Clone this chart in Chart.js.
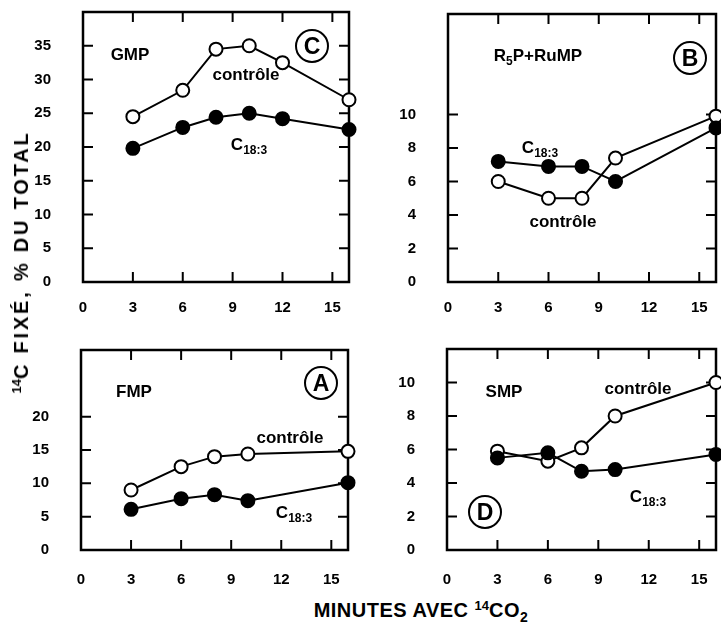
<!DOCTYPE html>
<html>
<head>
<meta charset="utf-8">
<script src="https://cdn.jsdelivr.net/npm/chart.js@4"></script>
<style>
  html, body { margin: 0; padding: 0; background: #fff; overflow: hidden; }
  body { width: 721px; height: 625px; position: relative; font-family: 'Liberation Sans', Arial, sans-serif; font-weight: bold; color: #000; }
  canvas { position: absolute; }
  .lbl { position: absolute; font-size: 17px; line-height: 1; white-space: nowrap; transform: translate(-50%, -50%); }
  .lbl sub { font-size: 12px; vertical-align: -4px; }
  .circ { position: absolute; width: 30px; height: 30px; border: 2px solid #000; border-radius: 50%;
          font-size: 23px; line-height: 30px; text-align: center; transform: translate(-50%, -50%); }
  .ytitle { position: absolute; left: 21px; top: 262px; font-size: 20px; letter-spacing: 2.8px; white-space: nowrap; transform: translate(-50%, -50%) rotate(-90deg); }
  .xtitle { position: absolute; left: 421px; top: 611px; font-size: 20px; letter-spacing: 0.5px; white-space: nowrap; transform: translate(-50%, -50%); }
  .ytitle sup, .xtitle sup { font-size: 13px; vertical-align: 7px; letter-spacing: 0; }
  .xtitle sub { font-size: 14px; vertical-align: -5px; }
</style>
</head>
<body>
<canvas id="chartC"></canvas>
<canvas id="chartB"></canvas>
<canvas id="chartA"></canvas>
<canvas id="chartD"></canvas>

<div class="ytitle"><sup>14</sup>C FIXÉ, % DU TOTAL</div>
<div class="xtitle">MINUTES AVEC <sup>14</sup>CO<sub>2</sub></div>

<div class="lbl" style="left:130px;top:54px">GMP</div>
<div class="lbl" style="left:246px;top:74px">contrôle</div>
<div class="lbl" style="left:249px;top:146px">C<sub>18:3</sub></div>
<div class="circ" style="left:312px;top:46px">C</div>

<div class="lbl" style="left:538px;top:57px">R<sub>5</sub>P+RuMP</div>
<div class="lbl" style="left:540px;top:149px">C<sub>18:3</sub></div>
<div class="lbl" style="left:563px;top:221px">contrôle</div>
<div class="circ" style="left:690px;top:58px">B</div>

<div class="lbl" style="left:134px;top:391px">FMP</div>
<div class="lbl" style="left:290px;top:437px">contrôle</div>
<div class="lbl" style="left:294px;top:514px">C<sub>18:3</sub></div>
<div class="circ" style="left:321px;top:383px">A</div>

<div class="lbl" style="left:504px;top:391px">SMP</div>
<div class="lbl" style="left:638px;top:388px">contrôle</div>
<div class="lbl" style="left:648px;top:498px">C<sub>18:3</sub></div>
<div class="circ" style="left:485px;top:512px">D</div>

<script>
// minutes avec 14CO2
const xTicks = [0, 3, 6, 9, 12, 15];

// C - GMP
const minutesC = [3, 6, 8, 10, 12, 16];
const controleC = [24.5, 28.4, 34.5, 35.0, 32.5, 27.0];
const c183C = [19.8, 22.9, 24.4, 25.0, 24.2, 22.6];
const yTicksC = [0, 5, 10, 15, 20, 25, 30, 35];

// B - R5P + RuMP
const minutesB = [3, 6, 8, 10, 16];
const controleB = [6.0, 5.0, 5.0, 7.4, 9.9];
const c183B = [7.2, 6.9, 6.9, 6.0, 9.2];
const yTicksB = [0, 2, 4, 6, 8, 10];

// A - FMP
const minutesA = [3, 6, 8, 10, 16];
const controleA = [9.0, 12.5, 14.0, 14.4, 14.8];
const c183A = [6.1, 7.7, 8.3, 7.4, 10.1];
const yTicksA = [0, 5, 10, 15, 20];

// D - SMP
const minutesD = [3, 6, 8, 10, 16];
const controleD = [5.9, 5.3, 6.1, 8.0, 10.0];
const c183D = [5.5, 5.8, 4.7, 4.8, 5.7];
const yTicksD = [0, 2, 4, 6, 8, 10];

// y tick padding adds to the scale's top padding, so keep PAD_T above it
const AXIS_W = 60, AXIS_H = 45, PAD_T = 40, PAD_R = 20;
const tickFont = { family: 'Liberation Sans', weight: 'bold', size: 15 };

// box + inward tick marks on all four sides
const framePlugin = {
    id: 'frame',
    beforeDatasetsDraw(chart) {
        const { ctx, chartArea: a, scales } = chart;
        const len = 10;
        ctx.save();
        ctx.strokeStyle = '#000';
        ctx.lineWidth = 2;
        ctx.beginPath();
        scales.x.ticks.forEach(t => {
            if (t.value <= 0) return;
            const px = scales.x.getPixelForValue(t.value);
            ctx.moveTo(px, a.bottom); ctx.lineTo(px, a.bottom - len);
            ctx.moveTo(px, a.top); ctx.lineTo(px, a.top + len);
        });
        scales.y.ticks.forEach(t => {
            if (t.value <= 0) return;
            const py = scales.y.getPixelForValue(t.value);
            ctx.moveTo(a.left, py); ctx.lineTo(a.left + len, py);
            ctx.moveTo(a.right, py); ctx.lineTo(a.right - len, py);
        });
        ctx.stroke();
        ctx.lineWidth = 2.5;
        ctx.strokeRect(a.left, a.top, a.right - a.left, a.bottom - a.top);
        ctx.restore();
    }
};

function series(xs, ys, filled) {
    return {
        data: xs.map((x, i) => ({ x: x, y: ys[i] })),
        borderColor: '#000',
        borderWidth: 2,
        pointRadius: 6.5,
        pointBorderWidth: 2,
        pointBackgroundColor: filled ? '#000' : '#fff',
        pointBorderColor: '#000',
        tension: 0,
        clip: false
    };
}

function makePanel(id, box, xs, controle, c183, yMax, yTicks) {
    const cv = document.getElementById(id);
    const w = box.r - box.l + AXIS_W + PAD_R;
    const h = box.b - box.t + PAD_T + AXIS_H;
    cv.width = w; cv.height = h;
    cv.style.left = (box.l - AXIS_W) + 'px';
    cv.style.top = (box.t - PAD_T) + 'px';
    cv.style.width = w + 'px'; cv.style.height = h + 'px';

    return new Chart(cv.getContext('2d'), {
        type: 'line',
        data: { datasets: [series(xs, c183, true), series(xs, controle, false)] },
        options: {
            responsive: false,
            animation: false,
            layout: { padding: { top: PAD_T, right: PAD_R, left: 0, bottom: 0 } },
            plugins: { legend: { display: false }, tooltip: { enabled: false } },
            scales: {
                x: {
                    type: 'linear', min: 0, max: 16,
                    afterBuildTicks: s => { s.ticks = xTicks.map(v => ({ value: v })); },
                    afterFit: s => { s.height = AXIS_H; },
                    grid: { display: false },
                    border: { display: false },
                    ticks: { color: '#000', font: tickFont, padding: box.xPad, maxRotation: 0, autoSkip: false }
                },
                y: {
                    type: 'linear', min: 0, max: yMax,
                    afterBuildTicks: s => { s.ticks = yTicks.map(v => ({ value: v })); },
                    afterFit: s => { s.width = AXIS_W; },
                    grid: { display: false },
                    border: { display: false },
                    ticks: { color: '#000', font: tickFont, padding: 24, autoSkip: false }
                }
            }
        },
        plugins: [framePlugin]
    });
}

makePanel('chartC', { l: 83, t: 12, r: 349, b: 282, xPad: 9 }, minutesC, controleC, c183C, 40, yTicksC);
makePanel('chartB', { l: 448, t: 14, r: 716, b: 282, xPad: 9 }, minutesB, controleB, c183B, 16, yTicksB);
makePanel('chartA', { l: 81, t: 350, r: 348, b: 550, xPad: 13 }, minutesA, controleA, c183A, 30, yTicksA);
makePanel('chartD', { l: 447, t: 349, r: 716, b: 550, xPad: 13 }, minutesD, controleD, c183D, 12, yTicksD);
</script>
</body>
</html>
